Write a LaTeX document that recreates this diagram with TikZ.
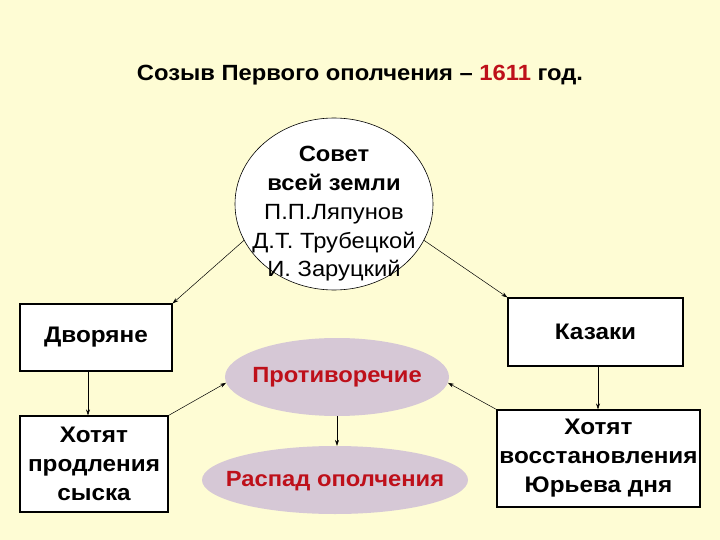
\documentclass[tikz,border=0pt]{standalone}
\usepackage{fontspec}
\setmainfont{Liberation Sans}
\newfontfamily\widesans[FakeStretch=1.08]{Liberation Sans}
\usetikzlibrary{arrows.meta,shapes.geometric}
\definecolor{bg}{RGB}{254,252,212}
\definecolor{lav}{RGB}{214,200,214}
\definecolor{dred}{RGB}{190,16,26}
\tikzset{
  box/.style={draw=black,line width=1.1pt,fill=white,inner sep=0pt,font=\widesans\fontsize{22.5}{29}\selectfont\bfseries,align=center},
  oval/.style={ellipse,fill=lav,inner sep=0pt},
  ovaltext/.style={inner sep=0pt,font=\widesans\fontsize{22}{26}\selectfont\bfseries,text=dred},
  con/.style={draw=black,line width=0.5pt,-{Stealth[length=6pt,width=4pt]}}
}
\begin{document}
\begin{tikzpicture}[x=1pt,y=-1pt]
\fill[bg] (0,0) rectangle (720,540);
\useasboundingbox (0,0) rectangle (720,540);
\node (title) at (360,75) {\widesans\fontsize{22}{26}\selectfont\bfseries Созыв Первого ополчения – \textcolor{dred}{1611} год.};
\node[ellipse,draw=black,line width=0.6pt,fill=white,minimum width=198pt,minimum height=172pt,inner sep=0pt] (sovet) at (334,204) {};
\node[align=center,font=\widesans\fontsize{22}{28.7}\selectfont] (sovtxt) at (334,214) {\textbf{Совет}\\\textbf{всей земли}\\П.П.Ляпунов\\Д.Т. Трубецкой\\И. Заруцкий};
\node[box,minimum width=152pt,minimum height=67pt] (dvor) at (96,337.5) {Дворяне};
\node[box,minimum width=175pt,minimum height=68pt] (kaz) at (595.5,332) {Казаки};
\node[box,minimum width=148pt,minimum height=96pt] (hl) at (94,464) {Хотят\\продления\\сыска};
\node[box,minimum width=203pt,minimum height=97pt] (hr) at (598.5,458.5) {Хотят\\восстановления\\Юрьева дня};
\node[oval,minimum width=224pt,minimum height=78pt] (prot) at (337,377) {};
\node[ovaltext] (prottxt) at (337,377) {Противоречие};
\node[oval,minimum width=266pt,minimum height=68pt] (rasp) at (335,480) {};
\node[ovaltext] (rasptxt) at (335,481) {Распад ополчения};
\draw[con] (sovet.202) -- (dvor.north east);
\draw[con] (sovet.-22) -- (kaz.north west);
\draw[con] (dvor.south -| 88,0) -- (hl.north -| 88,0);
\draw[con] (kaz.south -| 598,0) -- (hr.north -| 598,0);
\draw[con] (hl.north east) -- (prot.183);
\draw[con] (hr.north west) -- (prot.-3);
\draw[con] (prot.south -| 337,0) -- (rasp.north -| 337,0);
\end{tikzpicture}
\end{document}
